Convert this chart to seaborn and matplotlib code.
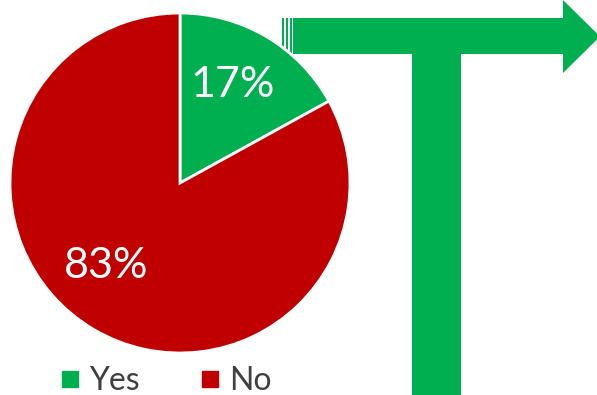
import matplotlib
matplotlib.use("Agg")
import matplotlib.pyplot as plt
from matplotlib.patches import Polygon, Rectangle
from matplotlib.lines import Line2D
import seaborn as sns

# ---- data ----
categories = ["Yes", "No"]
values = [17, 83]
colors = ["#00B050", "#C00000"]

sns.set_style("white")
plt.rcParams["font.family"] = ["Lato", "DejaVu Sans"]

W, H = 597, 395
fig = plt.figure(figsize=(W / 100, H / 100), dpi=100)

# ---- decorative arrow (background layer, pixel coords) ----
bg = fig.add_axes([0, 0, 1, 1], zorder=0)
bg.set_xlim(0, W)
bg.set_ylim(H, 0)
bg.axis("off")
green = colors[0]
# thin stripes
for x0, x1 in [(282, 284.3), (286, 288), (289.5, 292)]:
    bg.add_patch(Rectangle((x0, 18), x1 - x0, 36, color=green, lw=0))
# horizontal bar + head
bg.add_patch(Polygon([(293, 18), (563, 18), (563, 0), (600, 36.5),
                      (563, 73), (563, 54), (293, 54)], closed=True,
                     color=green, lw=0))
# vertical stem
bg.add_patch(Rectangle((412, 53), 49, 345, color=green, lw=0))

# ---- pie ----
ax = fig.add_axes([10 / W, (H - 353) / H, 340 / W, 340 / H], zorder=2)
ax.patch.set_alpha(0)
wedges, texts, autotexts = ax.pie(
    values, colors=colors, startangle=90, counterclock=False,
    autopct=lambda p: f"{p:.0f}%", pctdistance=0.65,
    wedgeprops=dict(edgecolor="white", linewidth=2),
    textprops=dict(color="white", fontsize=31),
)
for w in wedges:
    w.set_clip_on(False)
ax.set_xlim(-1, 1)
ax.set_ylim(-1, 1)
ax.set_aspect("equal")
# label positions as in the reference
autotexts[0].set_position((0.31, 0.575))
autotexts[1].set_position((-0.435, -0.49))

# ---- legend ----
handles = [Line2D([], [], marker="s", linestyle="none", markersize=12,
                  markerfacecolor=c, markeredgecolor=c) for c in colors]
fig.legend(handles, categories, loc="center",
           bbox_to_anchor=(166 / W, 1 - 381 / H), ncol=2, frameon=False,
           fontsize=23, labelcolor="#404040", handlelength=0.6,
           handletextpad=0.3, columnspacing=1.9, borderpad=0)

fig.savefig("out.png", dpi=100)
